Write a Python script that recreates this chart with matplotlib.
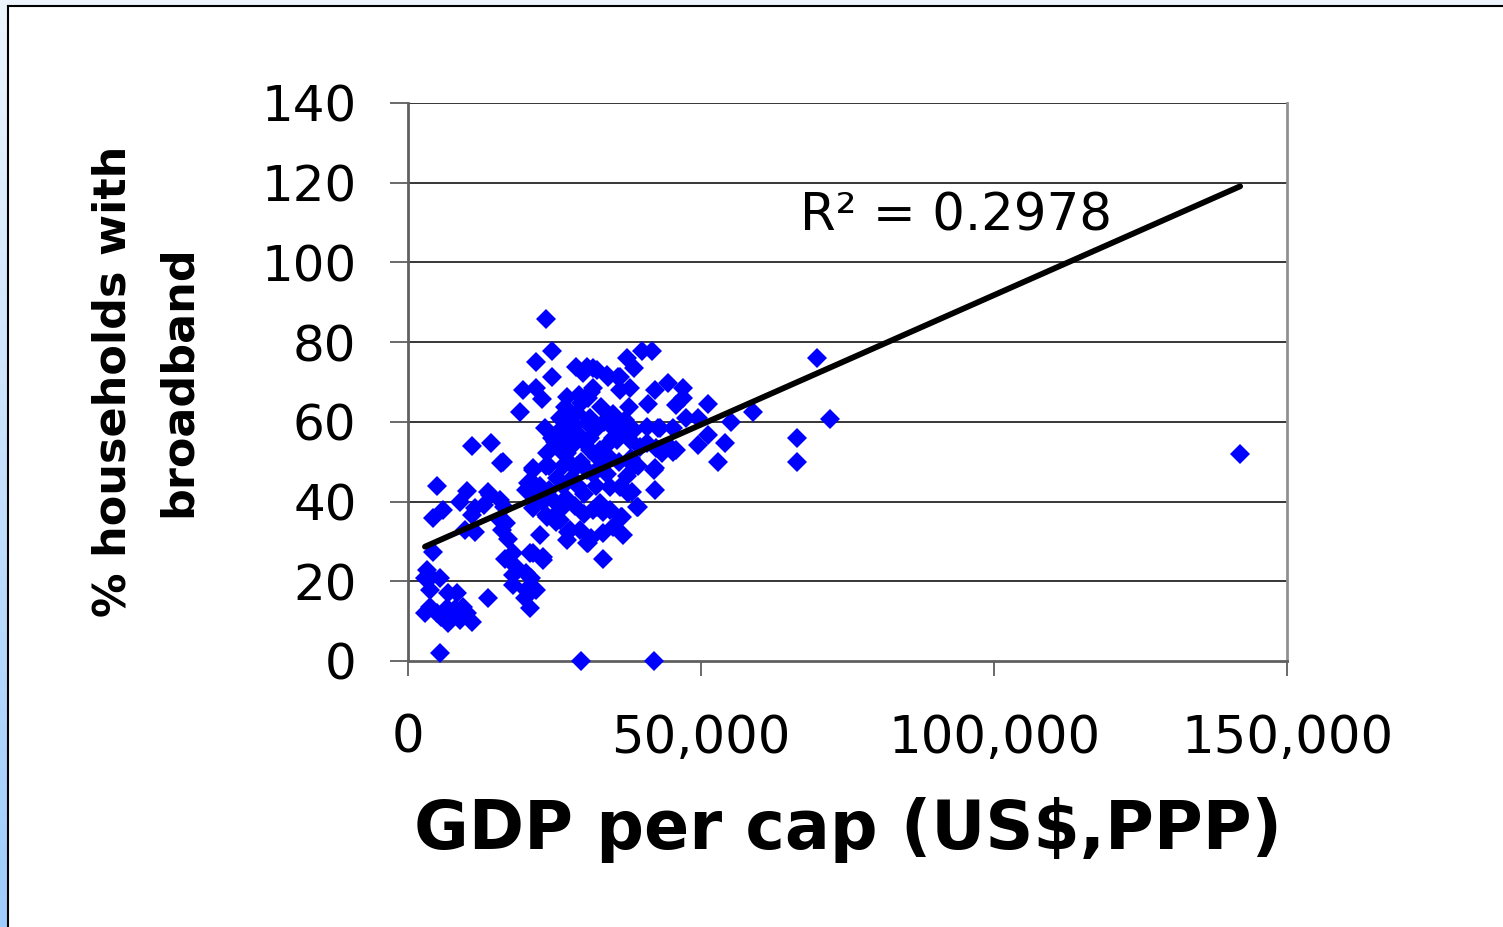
import numpy as np
import matplotlib
matplotlib.use("Agg")
import matplotlib.pyplot as plt
from matplotlib.ticker import FuncFormatter
from matplotlib.lines import Line2D
from matplotlib.patches import Rectangle

# ---------------- data ----------------
gdp_right = [142000, 72000, 69800, 66400, 66400, 58900, 55200, 54100, 52900, 51200, 51200,
             49500, 49500, 47500, 47000, 47000, 45800, 44400, 44700, 45800, 43300, 42100,
             42100, 42100, 41000, 41600, 39900, 38500, 37300, 37900, 36200, 36200, 34200,
             32200, 30500, 31600, 37700, 33000, 40700, 43000, 45300, 38500, 35000, 35600,
             37900, 40700, 32800, 39300, 37300, 34500, 37600, 39300, 32200, 33300, 36400,
             35000, 36700, 31300, 33300, 42000, 29500]
bb_right = [52, 60.7, 76, 56, 50, 62.5, 60, 54.6, 50, 64.6, 56.7,
            60.9, 54.2, 60.9, 68.4, 65.9, 64.2, 69.8, 53.8, 52.9, 52.1, 68,
            48.3, 42.9, 64.6, 77.8, 77.8, 73.4, 76, 68.4, 68, 71.3, 71.3,
            73, 73.8, 68.4, 63.8, 63.8, 58.8, 58.4, 58.4, 58, 58.8, 55.4,
            55.4, 54.6, 52.9, 48.8, 46.3, 43.7, 42.1, 38.7, 38.7, 37.5, 36.2,
            33.7, 31.6, 30.8, 25.7, 0, 0]

gdp_mid = [23500, 24500, 21800, 24500, 19600, 21800, 22800, 19100, 28700, 29900, 31600,
           33900, 35900, 28800, 31300, 29100, 27100, 26800, 28500, 29600, 30800, 26200,
           23400, 25900, 30500, 32200, 34800, 36700, 42700, 25900,
           16200, 23700, 21400, 20800, 20200, 27100, 26500, 28800, 32200, 33900, 35000,
           39600, 41900, 42400, 45300, 38500, 36200, 38200, 39000, 32800, 31600, 34500,
           36600, 33300, 29400, 27600, 27100, 30500, 25900, 22500, 23700, 21400, 16800,
           16300, 20800, 23100,
           25000, 26000, 27000, 28000, 29000, 30000, 31000, 27500, 29500, 30500, 31500,
           28000, 25500, 26500, 29000, 30000, 32000, 24000, 25000, 27000, 28500, 30000,
           26000, 24500, 31000, 33000, 34000, 24000, 22500, 23000, 34500, 36000, 38000,
           26000, 28200, 31000, 33500, 37000, 35000, 27500]
bb_mid = [85.7, 77.8, 75, 71.2, 68, 68.4, 65.7, 62.5, 73.8, 72.2, 73.4,
          71.8, 71.2, 62.2, 67.6, 66.7, 66.3, 63.8, 61.7, 64.7, 65.9, 60.5,
          58.5, 58, 59.6, 58.4, 58.8, 58.4, 58.4, 60.9,
          50, 52.1, 48.3, 45, 42.9, 52.1, 48.8, 48.8, 51.3, 54.2, 56,
          53.8, 47.9, 53.4, 52.5, 48.8, 43.7, 42.5, 38.7, 39.6, 37.9, 37.9,
          36.2, 32, 32.9, 32.9, 30.4, 29.6, 35.4, 31.6, 36.2, 38.3, 34.5,
          38.7, 27, 26.2,
          55, 53, 56, 54, 57, 55, 53, 50, 50, 48, 47,
          46, 46, 44, 44, 42, 44, 43, 40, 41, 39, 37,
          38, 56, 56, 49, 47, 49, 44, 40, 51, 50, 51,
          57.5, 58.8, 61, 60, 60.5, 62, 60]

gdp_left = [4900, 10000, 8800, 6000, 4300, 11500, 10900, 14000, 12900, 15700, 9700,
            11500, 4300, 15700, 16100, 17000, 21400, 21400, 23600, 25300, 27300, 30800,
            16600, 18000, 21400, 23100, 18500, 18000, 18000, 20200, 21000, 21900, 20200,
            20000, 20800, 13700, 3200, 4000, 5500, 2900, 3800, 6900, 8300, 3800,
            2900, 4900, 6600, 7700, 9400, 10000, 6900, 8900, 10900, 5500, 10900,
            14100, 15800, 13700, 20500, 23600, 21300, 5600, 8000]
bb_left = [44, 42.7, 40, 37.9, 36, 38.3, 36.6, 41.6, 39.1, 40.4, 32.9,
           32.4, 27.4, 35.4, 32.9, 30.5, 44.6, 41.6, 36.6, 34.9, 32.4, 29.6,
           25.7, 27, 27.2, 25.3, 23.7, 21.6, 19.1, 22, 20.7, 17.8, 17.8,
           15.7, 13.2, 15.7, 22.8, 21.1, 20.7, 20.7, 17.8, 17, 17, 13.6,
           12, 12, 13.2, 11.5, 13.6, 12, 9.5, 10.3, 9.9, 1.9, 53.9,
           54.6, 49.8, 42.3, 44.6, 48.8, 47.9, 11, 13]

gdp = np.array(gdp_right + gdp_mid + gdp_left, dtype=float)
broadband = np.array(bb_right + bb_mid + bb_left, dtype=float)

trend_slope = 0.00065      # % per US$
trend_intercept = 26.8
r_squared_text = "R\u00b2 = 0.2978"

x_ticks = [0, 50000, 100000, 150000]
y_ticks = [0, 20, 40, 60, 80, 100, 120, 140]
x_label = "GDP per cap (US$,PPP)"
y_label = "% households with\nbroadband"

# ---------------- figure ----------------
W, H = 1503, 927
fig = plt.figure(figsize=(W / 100, H / 100), dpi=100)
fig.patch.set_facecolor("white")

# outer slide frame: light strip on top, gradient strip on left
fig.patches.append(Rectangle((0, 1 - 6 / H), 1, 6 / H, transform=fig.transFigure,
                             facecolor="#eef4fc", edgecolor="none", zorder=0))
gax = fig.add_axes([0, 0, 8 / W, 1 - 6 / H])
grad = np.linspace(0, 1, 256)[:, None]
c_top = np.array([0.93, 0.96, 0.99])
c_bot = np.array([0.62, 0.80, 0.99])
img = c_top[None, None, :] * (1 - grad[:, :, None]) + c_bot[None, None, :] * grad[:, :, None]
gax.imshow(img, aspect="auto", extent=[0, 1, 0, 1], origin="upper")
gax.set_axis_off()
fig.lines.append(Line2D([8 / W, 1], [1 - 6 / H, 1 - 6 / H], transform=fig.transFigure,
                        color="black", lw=1.5))
fig.lines.append(Line2D([8 / W, 8 / W], [0, 1 - 6 / H], transform=fig.transFigure,
                        color="black", lw=1.5))

# main axes
ax_l, ax_r, ax_t, ax_b = 408, 1287, 103, 661
ax = fig.add_axes([ax_l / W, 1 - ax_b / H, (ax_r - ax_l) / W, (ax_b - ax_t) / H])
ax.set_xlim(0, 150000)
ax.set_ylim(0, 140)

for yv in y_ticks[1:]:
    ax.axhline(yv, color="black", lw=1.1, zorder=1)

ax.plot(gdp, broadband, linestyle="none", marker="D", markersize=10.5,
        color="#0000ff", markeredgewidth=0, zorder=3, clip_on=False)

xs = np.array([gdp.min(), gdp.max()])
ax.plot(xs, trend_intercept + trend_slope * xs, color="black", lw=4.2,
        solid_capstyle="round", zorder=4)

ax.text(66900, 108, r_squared_text, fontsize=37, ha="left", va="baseline", zorder=5)

ax.set_xticks(x_ticks)
ax.set_yticks(y_ticks)
ax.xaxis.set_major_formatter(FuncFormatter(lambda v, p: f"{int(v):,}"))
ax.tick_params(axis="x", direction="out", length=11, width=1.2, color="#505050",
               labelsize=37, pad=27)
ax.tick_params(axis="y", direction="out", length=13, width=1.2, color="#505050",
               labelsize=36, pad=24)

for s in ["left", "bottom"]:
    ax.spines[s].set_color("#606060")
    ax.spines[s].set_linewidth(2)
ax.spines["right"].set_color("#909090")
ax.spines["right"].set_linewidth(2)
ax.spines["top"].set_visible(False)

fig.text(848 / W, 1 - 830 / H, x_label, fontsize=48, fontweight="bold",
         ha="center", va="center")
fig.text(146 / W, 1 - 381 / H, y_label, fontsize=32, fontweight="bold",
         rotation=90, ha="center", va="center", multialignment="center", linespacing=1.65)

fig.savefig("out.png", dpi=100)
